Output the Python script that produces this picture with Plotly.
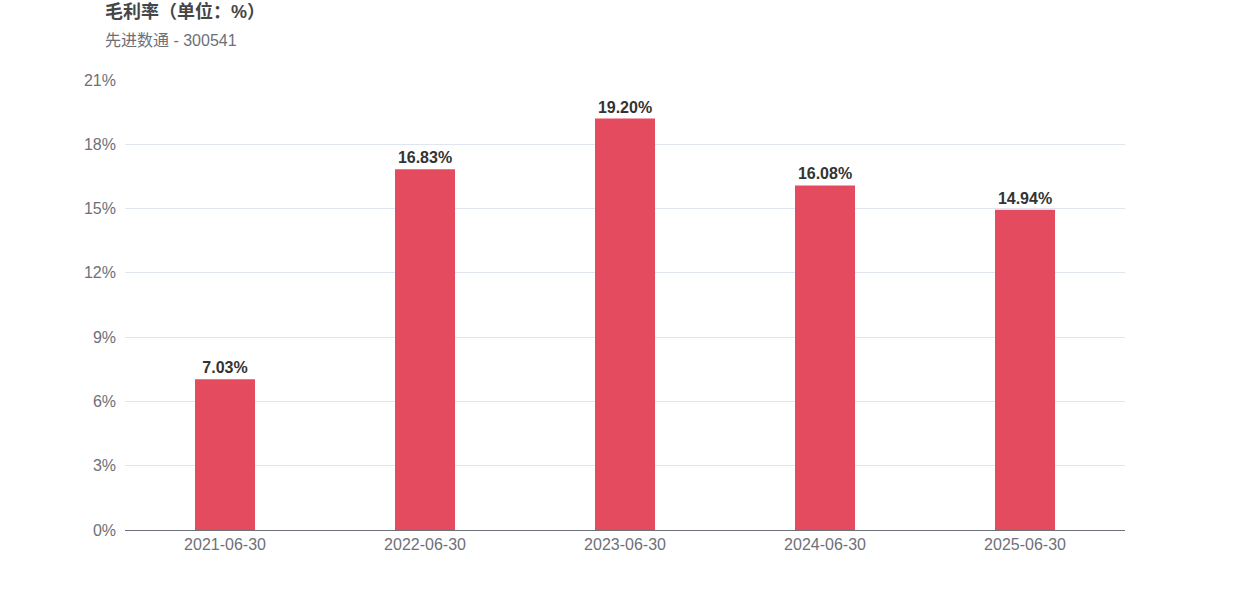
import plotly.graph_objects as go

# data
periods = ['2021-06-30', '2022-06-30', '2023-06-30', '2024-06-30', '2025-06-30']
gross_margin = [7.03, 16.83, 19.20, 16.08, 14.94]
y_ticks = [0, 3, 6, 9, 12, 15, 18, 21]

FONT = 'Liberation Sans, Arial, Noto Sans CJK SC, sans-serif'

L, T, R, B = 125, 80, 125, 70
pw, ph = 1250 - L - R, 600 - T - B

fig = go.Figure()

fig.add_trace(go.Bar(
    x=periods,
    y=gross_margin,
    width=0.3,
    marker=dict(color='#E54B5E', line=dict(width=0)),
    text=[f'<b>{v:.2f}%</b>' for v in gross_margin],
    textposition='outside',
    textfont=dict(size=16, color='#333333', family=FONT),
    cliponaxis=False,
    hovertemplate='%{x}<br>%{y:.2f}%<extra></extra>',
))

fig.update_layout(
    width=1250,
    height=600,
    plot_bgcolor='white',
    paper_bgcolor='white',
    font=dict(family=FONT),
    margin=dict(t=T, b=B, l=L, r=R),
    showlegend=False,
    annotations=[
        dict(text='<b>毛利率（单位：%）</b>', xref='paper', yref='paper',
             x=(103 - L) / pw, y=1 + (T - 12) / ph, xanchor='left', yanchor='middle',
             showarrow=False, font=dict(size=18, color='#464646')),
        dict(text='先进数通 - 300541', xref='paper', yref='paper',
             x=(103 - L) / pw, y=1 + (T - 40) / ph, xanchor='left', yanchor='middle',
             showarrow=False, font=dict(size=16, color='#6E7079')),
    ],
)

fig.update_xaxes(
    type='category',
    showgrid=False,
    showline=True,
    linecolor='#6E7079',
    linewidth=1,
    ticks='',
    tickfont=dict(size=16, color='#6E7079'),
)
fig.update_yaxes(
    range=[0, 21],
    tickvals=y_ticks,
    ticktext=[f'{t}%' for t in y_ticks],
    showgrid=True,
    gridcolor='#E0E6F1',
    gridwidth=1,
    zeroline=False,
    showline=False,
    ticks='',
    ticklabelstandoff=8,
    tickfont=dict(size=16, color='#6E7079'),
)

# drop the default page margin so the figure sits at the window's corner
fig.write_html('out.html', config={'displayModeBar': False},
               post_script="document.body.style.margin='0';")
